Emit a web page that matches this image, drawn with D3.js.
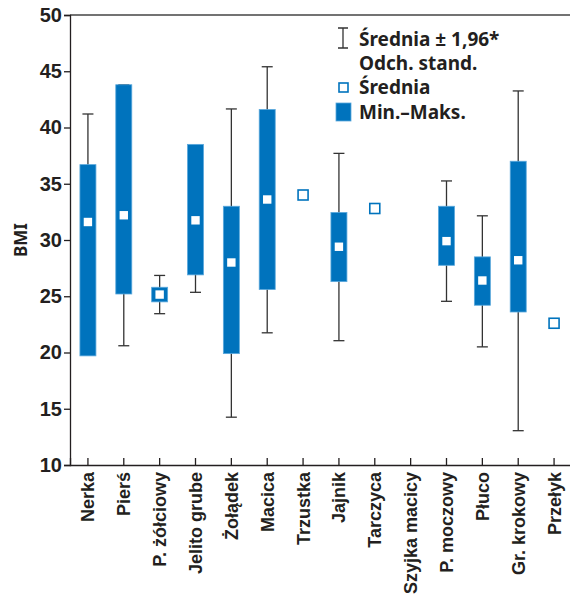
<!DOCTYPE html>
<html>
<head>
<meta charset="utf-8">
<script src="https://cdn.jsdelivr.net/npm/d3@7"></script>
<style>
  body { margin: 0; background: #fff; }
  svg { display: block; font-family: "Noto Sans", sans-serif; font-weight: 700; }
</style>
</head>
<body>
<div id="chart"></div>
<script>
// Categories (x axis)
const categories = ["Nerka", "Pierś", "P. żółciowy", "Jelito grube", "Żołądek", "Macica", "Trzustka",
    "Jajnik", "Tarczyca", "Szyjka macicy", "P. moczowy", "Płuco", "Gr. krokowy", "Przełyk"];

// BMI values (null = no data)
const means    = [31.6, 32.2, 25.15, 31.75, 28.0, 33.6, 34.0, 29.4, 32.8, null, 29.9, 26.4, 28.2, 22.6];
const mins     = [19.7, 25.2, 24.5, 26.9, 19.9, 25.6, null, 26.3, null, null, 27.75, 24.2, 23.6, null];
const maxs     = [36.7, 43.8, 25.8, 38.5, 33.0, 41.6, null, 32.45, null, null, 33.0, 28.5, 37.0, null];
const ciLow    = [22.0, 20.6, 23.45, 25.35, 14.25, 21.75, null, 21.05, null, null, 24.55, 20.5, 13.05, null];
const ciHigh   = [41.2, 43.8, 26.85, 38.15, 41.65, 45.4, null, 37.7, null, null, 35.25, 32.15, 43.25, null];
const yTicks   = [10, 15, 20, 25, 30, 35, 40, 45, 50];

const width = 570, height = 595;
const margin = { top: 15, right: -2, bottom: 130, left: 70 };
const blue = "#0073bd", edge = "#5aa8dc", ink = "#231f20";

const svg = d3.select("#chart").append("svg")
    .attr("width", width)
    .attr("height", height);

const x = d3.scaleBand()
    .domain(categories)
    .range([margin.left, width - margin.right]);

const y = d3.scaleLinear()
    .domain([10, 50])
    .range([height - margin.bottom, margin.top]);

const rows = categories.map((c, i) => ({
    cat: c, mean: means[i], min: mins[i], max: maxs[i], lo: ciLow[i], hi: ciHigh[i]
}));

// top border
svg.append("line")
    .attr("x1", margin.left).attr("x2", width)
    .attr("y1", y(50)).attr("y2", y(50))
    .attr("stroke", "#444").attr("stroke-width", 1.3);

// Y axis
const yAxis = svg.append("g")
    .attr("transform", `translate(${margin.left},0)`)
    .call(d3.axisLeft(y).tickValues(yTicks).tickSize(6).tickPadding(2));
yAxis.select(".domain").attr("stroke", ink).attr("stroke-width", 1.3);
yAxis.selectAll(".tick line").attr("stroke", ink).attr("stroke-width", 1.3);
yAxis.selectAll("text").attr("fill", ink).style("font-size", "20px").style("font-weight", 700);

svg.append("text")
    .attr("transform", `translate(27,${y(30)}) rotate(-90)`)
    .attr("text-anchor", "middle")
    .attr("fill", ink)
    .style("font-size", "17px")
    .text("BMI");

// X axis
const xAxis = svg.append("g")
    .attr("transform", `translate(0,${y(10)})`)
    .call(d3.axisBottom(x).tickSize(-7).tickPadding(0));
xAxis.select(".domain").attr("stroke", ink).attr("stroke-width", 1.3);
xAxis.selectAll(".tick line").attr("stroke", ink).attr("stroke-width", 1.3);
xAxis.selectAll("text")
    .attr("transform", "rotate(-90)")
    .attr("text-anchor", "end")
    .attr("x", -7)
    .attr("y", 0)
    .attr("dy", "0.36em")
    .attr("fill", ink)
    .style("font-size", "18px")
    .style("font-weight", 700);

const cx = d => x(d.cat) + x.bandwidth() / 2;
const capW = 11, barW = 16, markW = 10;

// whiskers (mean ± 1.96 SD), drawn behind the bars
const wh = svg.append("g").attr("stroke", "#333").attr("stroke-width", 1.3);
const withCi = rows.filter(d => d.lo != null);
wh.selectAll(".stem").data(withCi).enter().append("line")
    .attr("x1", cx).attr("x2", cx)
    .attr("y1", d => y(d.hi)).attr("y2", d => y(d.lo));
wh.selectAll(".capHi").data(withCi).enter().append("line")
    .attr("x1", d => cx(d) - capW / 2).attr("x2", d => cx(d) + capW / 2)
    .attr("y1", d => y(d.hi)).attr("y2", d => y(d.hi));
wh.selectAll(".capLo").data(withCi).enter().append("line")
    .attr("x1", d => cx(d) - capW / 2).attr("x2", d => cx(d) + capW / 2)
    .attr("y1", d => y(d.lo)).attr("y2", d => y(d.lo));

// min-max bars
svg.append("g").selectAll("rect")
    .data(rows.filter(d => d.min != null))
    .enter().append("rect")
    .attr("x", d => cx(d) - barW / 2)
    .attr("y", d => y(d.max))
    .attr("width", barW)
    .attr("height", d => y(d.min) - y(d.max))
    .attr("fill", blue)
    .attr("stroke", edge)
    .attr("stroke-width", 0.8);

// mean markers
svg.append("g").selectAll("rect")
    .data(rows.filter(d => d.mean != null))
    .enter().append("rect")
    .attr("x", d => cx(d) - markW / 2)
    .attr("y", d => y(d.mean) - markW / 2)
    .attr("width", markW)
    .attr("height", markW)
    .attr("fill", "#fff")
    .attr("stroke", blue)
    .attr("stroke-width", 1.6);

// legend
const lg = svg.append("g").attr("fill", ink).style("font-size", "19px");
lg.append("path")
    .attr("d", "M338,28H348M343,28V48M338,48H348")
    .attr("stroke", "#333").attr("stroke-width", 1.3).attr("fill", "none");
lg.append("text").attr("x", 359).attr("y", 46).text("Średnia ± 1,96*");
lg.append("text").attr("x", 359).attr("y", 70).text("Odch. stand.");
lg.append("rect").attr("x", 339).attr("y", 83).attr("width", 9).attr("height", 9)
    .attr("fill", "#fff").attr("stroke", blue).attr("stroke-width", 1.6);
lg.append("text").attr("x", 359).attr("y", 94).text("Średnia");
lg.append("rect").attr("x", 336).attr("y", 103).attr("width", 15).attr("height", 18)
    .attr("fill", blue).attr("stroke", edge).attr("stroke-width", 0.8);
lg.append("text").attr("x", 359).attr("y", 119).text("Min.–Maks.");
</script>
</body>
</html>
